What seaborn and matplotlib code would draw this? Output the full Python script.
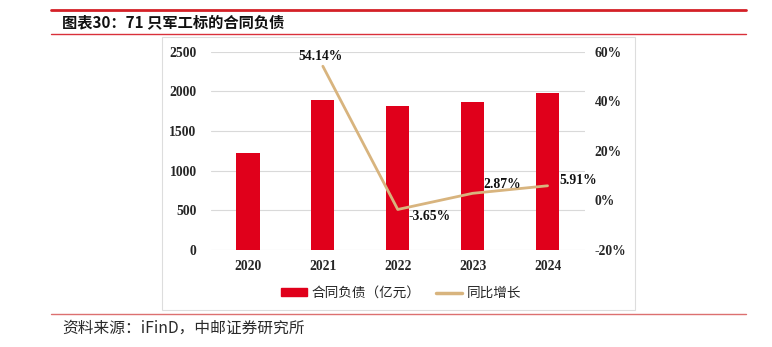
import matplotlib
matplotlib.use("Agg")
import matplotlib.pyplot as plt
import matplotlib.patches as mpatches
from matplotlib.lines import Line2D
import seaborn as sns
import pandas as pd

years = ["2020", "2021", "2022", "2023", "2024"]
liabilities = [1219, 1887, 1819, 1872, 1984]
growth_years = ["2021", "2022", "2023", "2024"]
growth = [54.14, -3.65, 2.87, 5.91]
growth_labels = ["54.14%", "-3.65%", "2.87%", "5.91%"]
left_ticks = [0, 500, 1000, 1500, 2000, 2500]
right_ticks = [-20, 0, 20, 40, 60]
right_tick_labels = ["-20%", "0%", "20%", "40%", "60%"]

title = "图表30：71 只军工标的合同负债"
source = "资料来源：iFinD，中邮证券研究所"
legend_bar = "合同负债（亿元）"
legend_line = "同比增长"

BAR = "#E0001B"
LINE = "#D8B47E"
GRID = "#D9D9D9"

sns.set_theme(style="white")
plt.rcParams["font.family"] = ["Liberation Serif", "Noto Sans CJK SC", "DejaVu Sans"]

W, H = 772, 347
fig = plt.figure(figsize=(W / 100, H / 100), dpi=100)

def fx(px):
    return px / W

def fy(py):
    return 1 - py / H

# decorations
fig.add_artist(Line2D([fx(51), fx(746)], [fy(10), fy(10)], color="#D42027", lw=2.0))
fig.add_artist(Line2D([fx(51), fx(746)], [fy(34), fy(34)], color="#D9303A", lw=1.0))
fig.add_artist(Line2D([fx(51), fx(746)], [fy(313.5), fy(313.5)], color="#DC7070", lw=1.0))
fig.add_artist(mpatches.Rectangle((fx(162), fy(310)), fx(635) - fx(162), fy(37) - fy(310),
                                  transform=fig.transFigure, fill=False,
                                  edgecolor="#DDDDDD", lw=0.8))
fig.text(fx(62), fy(22), title, fontsize=11, fontweight="bold",
         family=["Noto Sans CJK SC"], va="center", ha="left", color="#111111")
fig.text(fx(62), fy(328), source, fontsize=11.3,
         family=["Noto Sans CJK SC"], va="center", ha="left", color="#2a2a2a")

# axes
ax = fig.add_axes([fx(210.5), fy(250), fx(585) - fx(210.5), fy(51.7) - fy(250)])
df = pd.DataFrame({"year": years, "value": liabilities})
sns.barplot(data=df, x="year", y="value", ax=ax, color=BAR, width=0.31,
            saturation=1, edgecolor="none")
ax.set_xlim(-0.5, len(years) - 0.5)
ax.set_ylim(0, 2500)
ax.set_yticks(left_ticks)
ax.set_yticklabels([str(t) for t in left_ticks])
ax.set_xlabel("")
ax.set_ylabel("")
ax.grid(axis="y", color=GRID, lw=0.8)
ax.set_axisbelow(True)
for s in ax.spines.values():
    s.set_visible(False)
ax.tick_params(axis="y", length=0, pad=10, labelsize=9.8)
ax.tick_params(axis="x", length=0, pad=7, labelsize=9.8)
for lab in ax.get_xticklabels() + ax.get_yticklabels():
    lab.set_fontweight("bold")

ax2 = ax.twinx()
pos = [years.index(y) for y in growth_years]
gdf = pd.DataFrame({"pos": pos, "growth": growth})
sns.lineplot(data=gdf, x="pos", y="growth", ax=ax2, color=LINE, lw=2.0)
ax2.set_ylim(-20, 60)
ax2.set_yticks(right_ticks)
ax2.set_yticklabels(right_tick_labels)
ax2.set_ylabel("")
ax2.set_xlabel("")
ax2.set_xlim(-0.5, len(years) - 0.5)
for s in ax2.spines.values():
    s.set_visible(False)
ax2.tick_params(axis="y", length=0, pad=7, labelsize=9.8)
for lab in ax2.get_yticklabels():
    lab.set_fontweight("bold")
ax2.grid(False)

offsets = [(-2, 2, "center", "bottom"), (8, -5, "left", "center"),
           (8, 6.5, "left", "center"), (8.5, 4, "left", "center")]
for p, g, t, (dx, dy, ha, va) in zip(pos, growth, growth_labels, offsets):
    ax2.annotate(t, (p, g), xytext=(dx, dy), textcoords="offset points",
                 ha=ha, va=va, fontsize=9.8, fontweight="bold", color="#111111")

handles = [mpatches.Patch(color=BAR, label=legend_bar),
           Line2D([0], [0], color=LINE, lw=2.5, label=legend_line)]
leg = fig.legend(handles=handles, loc="center", bbox_to_anchor=(fx(401), fy(293)),
                 ncol=2, frameon=False, handlelength=1.9, handleheight=0.55,
                 columnspacing=1.2, handletextpad=0.3,
                 prop={"family": ["Noto Sans CJK SC"], "size": 9.8})

fig.savefig("out.png", dpi=100)
